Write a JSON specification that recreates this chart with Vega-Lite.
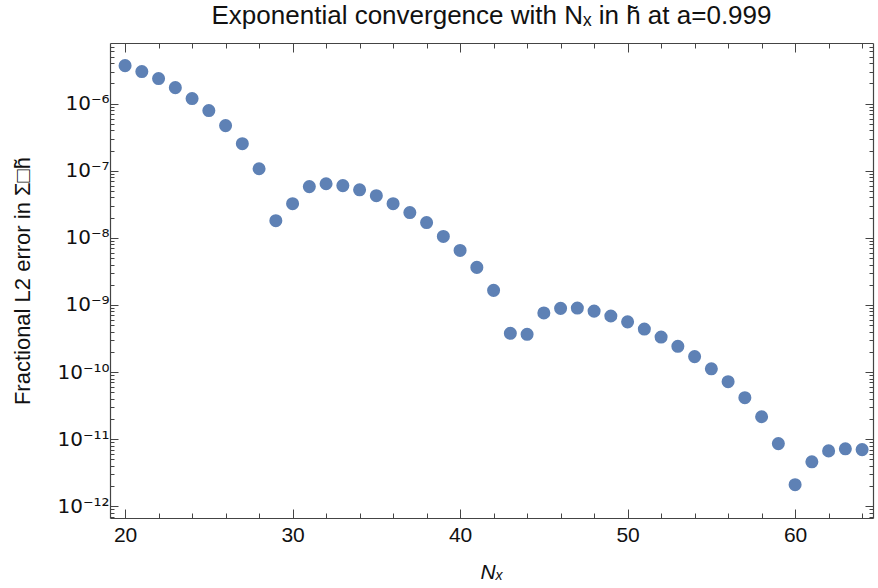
{
  "$schema": "https://vega.github.io/schema/vega-lite/v6.json",
  "width": 763,
  "height": 475,
  "autosize": "none",
  "padding": {"left": 110, "top": 43, "right": 5, "bottom": 70},
  "background": "white",
  "config": {
    "view": {"stroke": null},
    "font": "Liberation Sans",
    "axis": {
      "domainColor": "#444444",
      "tickColor": "#444444",
      "labelColor": "#111111",
      "titleColor": "#111111",
      "labelFont": "Liberation Sans",
      "titleFont": "Liberation Sans, DejaVu Sans",
      "labelFontSize": 21,
      "titleFontSize": 21,
      "titleFontWeight": "normal",
      "grid": false,
      "domainWidth": 1.2,
      "tickWidth": 1
    }
  },
  "title": {
    "text": "Exponential convergence with Nₓ in h̃ at a=0.999",
    "font": "Liberation Sans",
    "fontSize": 26,
    "fontWeight": "normal",
    "color": "#111111",
    "anchor": "middle",
    "offset": 8
  },
  "data": {
    "values": [
      {"N": 20, "err": 3.68e-6},
      {"N": 21, "err": 3.0e-6},
      {"N": 22, "err": 2.36e-6},
      {"N": 23, "err": 1.73e-6},
      {"N": 24, "err": 1.19e-6},
      {"N": 25, "err": 7.87e-7},
      {"N": 26, "err": 4.7e-7},
      {"N": 27, "err": 2.53e-7},
      {"N": 28, "err": 1.07e-7},
      {"N": 29, "err": 1.8e-8},
      {"N": 30, "err": 3.23e-8},
      {"N": 31, "err": 5.8e-8},
      {"N": 32, "err": 6.4e-8},
      {"N": 33, "err": 6.0e-8},
      {"N": 34, "err": 5.2e-8},
      {"N": 35, "err": 4.25e-8},
      {"N": 36, "err": 3.23e-8},
      {"N": 37, "err": 2.38e-8},
      {"N": 38, "err": 1.69e-8},
      {"N": 39, "err": 1.05e-8},
      {"N": 40, "err": 6.5e-9},
      {"N": 41, "err": 3.63e-9},
      {"N": 42, "err": 1.65e-9},
      {"N": 43, "err": 3.78e-10},
      {"N": 44, "err": 3.65e-10},
      {"N": 45, "err": 7.6e-10},
      {"N": 46, "err": 8.9e-10},
      {"N": 47, "err": 9.0e-10},
      {"N": 48, "err": 8.1e-10},
      {"N": 49, "err": 6.85e-10},
      {"N": 50, "err": 5.6e-10},
      {"N": 51, "err": 4.38e-10},
      {"N": 52, "err": 3.33e-10},
      {"N": 53, "err": 2.42e-10},
      {"N": 54, "err": 1.7e-10},
      {"N": 55, "err": 1.12e-10},
      {"N": 56, "err": 7.2e-11},
      {"N": 57, "err": 4.15e-11},
      {"N": 58, "err": 2.16e-11},
      {"N": 59, "err": 8.6e-12},
      {"N": 60, "err": 2.1e-12},
      {"N": 61, "err": 4.6e-12},
      {"N": 62, "err": 6.7e-12},
      {"N": 63, "err": 7.2e-12},
      {"N": 64, "err": 7.0e-12}
    ]
  },
  "resolve": {"axis": {"x": "independent", "y": "independent"}},
  "layer": [
    {
      "mark": {"type": "point", "filled": true, "color": "#5E81B5", "opacity": 1, "size": 170},
      "encoding": {
        "x": {
          "field": "N", "type": "quantitative",
          "scale": {"domain": [19.1, 64.65], "nice": false, "zero": false},
          "axis": {
            "orient": "bottom",
            "title": "Nₓ",
            "titleFontStyle": "italic",
            "titlePadding": 16,
            "values": [20,22,24,26,28,30,32,34,36,38,40,42,44,46,48,50,52,54,56,58,60,62,64],
            "labelExpr": "datum.value % 10 == 0 ? datum.label : ''",
            "tickSize": {"condition": {"test": "datum.value % 10 == 0", "value": -9}, "value": -5},
            "labelPadding": 15,
            "labelFlush": false
          }
        },
        "y": {
          "field": "err", "type": "quantitative",
          "scale": {"type": "log", "domain": [6.7e-13, 8.0e-6], "nice": false},
          "axis": {
            "orient": "left",
            "title": "Fractional L2 error in Σ□h̃",
            "titleFontSize": 22,
            "titlePadding": 22,
            "labelFont": "DejaVu Sans",
            "labelFontSize": 20,
            "values": [7e-13,8e-13,9e-13,1e-12,2e-12,3e-12,4e-12,5e-12,6e-12,7e-12,8e-12,9e-12,1e-11,2e-11,3e-11,4e-11,5e-11,6e-11,7e-11,8e-11,9e-11,1e-10,2e-10,3e-10,4e-10,5e-10,6e-10,7e-10,8e-10,9e-10,1e-9,2e-9,3e-9,4e-9,5e-9,6e-9,7e-9,8e-9,9e-9,1e-8,2e-8,3e-8,4e-8,5e-8,6e-8,7e-8,8e-8,9e-8,1e-7,2e-7,3e-7,4e-7,5e-7,6e-7,7e-7,8e-7,9e-7,1e-6,2e-6,3e-6,4e-6,5e-6,6e-6,7e-6],
            "labelExpr": "abs(log(datum.value)/LN10 - round(log(datum.value)/LN10)) < 0.001 ? '10⁻' + (round(-log(datum.value)/LN10) >= 10 ? '¹' + substring('⁰¹²³⁴⁵⁶⁷⁸⁹', round(-log(datum.value)/LN10) - 10, round(-log(datum.value)/LN10) - 9) : substring('⁰¹²³⁴⁵⁶⁷⁸⁹', round(-log(datum.value)/LN10), round(-log(datum.value)/LN10) + 1)) : ''",
            "tickSize": {"condition": {"test": "abs(log(datum.value)/LN10 - round(log(datum.value)/LN10)) < 0.001", "value": -8}, "value": -4},
            "labelPadding": 9,
            "labelFlush": false,
            "labelOverlap": false
          }
        }
      }
    },
    {
      "mark": {"type": "point", "opacity": 0},
      "encoding": {
        "x": {
          "field": "N", "type": "quantitative",
          "scale": {"domain": [19.1, 64.65], "nice": false, "zero": false},
          "axis": {
            "orient": "top",
            "title": null,
            "labels": false,
            "values": [20,22,24,26,28,30,32,34,36,38,40,42,44,46,48,50,52,54,56,58,60,62,64],
            "tickSize": {"condition": {"test": "datum.value % 10 == 0", "value": -9}, "value": -5}
          }
        },
        "y": {
          "field": "err", "type": "quantitative",
          "scale": {"type": "log", "domain": [6.7e-13, 8.0e-6], "nice": false},
          "axis": {
            "orient": "right",
            "title": null,
            "labels": false,
            "values": [7e-13,8e-13,9e-13,1e-12,2e-12,3e-12,4e-12,5e-12,6e-12,7e-12,8e-12,9e-12,1e-11,2e-11,3e-11,4e-11,5e-11,6e-11,7e-11,8e-11,9e-11,1e-10,2e-10,3e-10,4e-10,5e-10,6e-10,7e-10,8e-10,9e-10,1e-9,2e-9,3e-9,4e-9,5e-9,6e-9,7e-9,8e-9,9e-9,1e-8,2e-8,3e-8,4e-8,5e-8,6e-8,7e-8,8e-8,9e-8,1e-7,2e-7,3e-7,4e-7,5e-7,6e-7,7e-7,8e-7,9e-7,1e-6,2e-6,3e-6,4e-6,5e-6,6e-6,7e-6],
            "tickSize": {"condition": {"test": "abs(log(datum.value)/LN10 - round(log(datum.value)/LN10)) < 0.001", "value": -8}, "value": -4}
          }
        }
      }
    }
  ]
}
